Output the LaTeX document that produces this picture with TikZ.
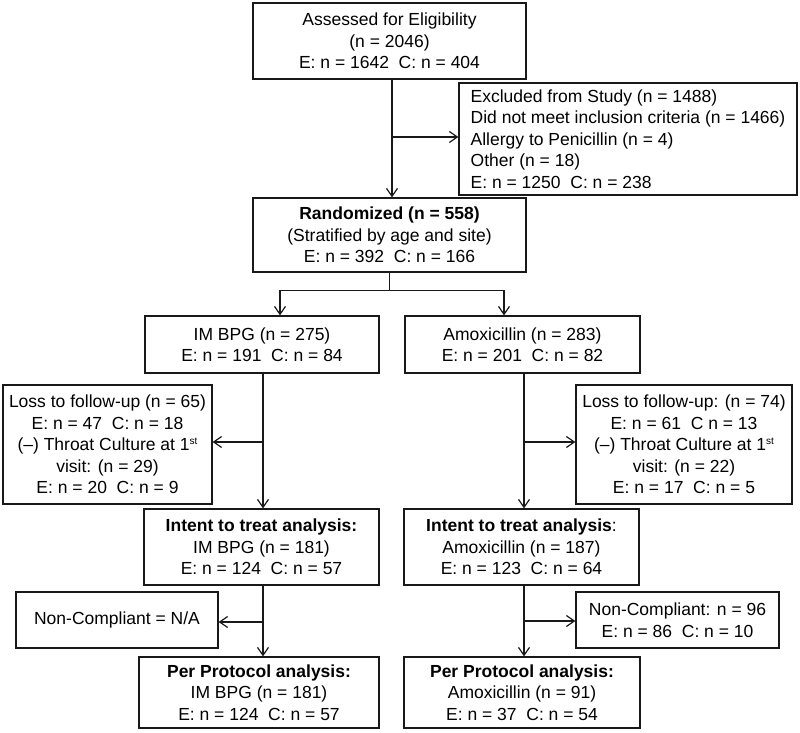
\documentclass[tikz,border=0pt]{standalone}
\usepackage{fontspec}
\setmainfont{Liberation Sans}
\usetikzlibrary{arrows.meta}
\tikzset{
  box/.style={draw=black!90, line width=1.2pt, align=center, inner sep=0pt,
    font=\fontsize{17.5}{21.5}\selectfont},
  conn/.style={draw=black!90, line width=1.2pt},
  arr/.style={conn, -{Straight Barb[length=8pt,width=11pt,line width=1.2pt]}}
}
\begin{document}
\begin{tikzpicture}[x=1pt,y=-1pt]
\useasboundingbox (0,0) rectangle (800,733);
\node[box, minimum width=273pt, minimum height=76pt] (A) at (389.5,41)
  {Assessed for Eligibility\\(n = 2046)\\E: n = 1642\ \ C: n = 404};
\node[box, align=left, minimum width=338pt, minimum height=112pt] (Excl) at (628,139)
  {Excluded from Study (n = 1488)\\Did not meet inclusion criteria (n = 1466)\\Allergy to Penicillin (n = 4)\\Other (n = 18)\\E: n = 1250\ \ C: n = 238};
\node[box, minimum width=273pt, minimum height=74pt] (Rand) at (389.5,235)
  {\textbf{Randomized (n = 558)}\\(Stratified by age and site)\\E: n = 392\ \ C: n = 166};
\node[box, minimum width=234pt, minimum height=57pt] (IM) at (262,344.5)
  {IM BPG (n = 275)\\E: n = 191\ \ C: n = 84};
\node[box, minimum width=235pt, minimum height=57pt] (Amox) at (522.5,344.5)
  {Amoxicillin (n = 283)\\E: n = 201\ \ C: n = 82};
\node[box, minimum width=209pt, minimum height=119pt] (LossL) at (107.5,444.5)
  {Loss to follow-up (n = 65)\\E: n = 47\ \ C: n = 18\\(–) Throat Culture at 1{\fontsize{10}{10}\selectfont\raisebox{6pt}{st}}\\visit: (n = 29)\\E: n = 20\ \ C: n = 9};
\node[box, minimum width=216pt, minimum height=119pt] (LossR) at (684,444.5)
  {Loss to follow-up: (n = 74)\\E: n = 61\ \ C n = 13\\(–) Throat Culture at 1{\fontsize{10}{10}\selectfont\raisebox{6pt}{st}}\\visit: (n = 22)\\E: n = 17\ \ C: n = 5};
\node[box, minimum width=235pt, minimum height=76pt] (ITTL) at (261.5,547)
  {\textbf{Intent to treat analysis:}\\IM BPG (n = 181)\\E: n = 124\ \ C: n = 57};
\node[box, minimum width=235pt, minimum height=76pt] (ITTR) at (521.5,547)
  {\textbf{Intent to treat analysis}:\\Amoxicillin (n = 187)\\E: n = 123\ \ C: n = 64};
\node[box, minimum width=202pt, minimum height=56pt] (NCL) at (117,620)
  {Non-Compliant = N/A};
\node[box, minimum width=203pt, minimum height=56pt] (NCR) at (677.5,620)
  {Non-Compliant: n = 96\\E: n = 86\ \ C: n = 10};
\node[box, minimum width=240pt, minimum height=71pt] (PPL) at (259,692.5)
  {\textbf{Per Protocol analysis:}\\IM BPG (n = 181)\\E: n = 124\ \ C: n = 57};
\node[box, minimum width=236pt, minimum height=71pt] (PPR) at (522,692.5)
  {\textbf{Per Protocol analysis:}\\Amoxicillin (n = 91)\\E: n = 37\ \ C: n = 54};

% top
\coordinate (a0) at ([xshift=2.5pt]A.south);
\draw[arr] (a0) -- (a0 |- Rand.north);
\coordinate (ex) at ([yshift=2pt]Excl.west);
\draw[arr] (a0 |- ex) -- (ex);
% randomization split
\coordinate (rb) at ([yshift=-18pt]Rand.south);
\draw[conn] (Rand.south) -- (rb);
\draw[arr] (rb) -| ([xshift=18pt]IM.north);
\draw[arr] (rb) -| ([xshift=-18.5pt]Amox.north);
% left arm
\coordinate (l0) at ([xshift=1pt]IM.south);
\draw[arr] (l0) -- (l0 |- ITTL.north);
\coordinate (ll) at ([yshift=2.5pt]LossL.east);
\draw[arr] (l0 |- ll) -- (ll);
\coordinate (l1) at (l0 |- ITTL.south);
\draw[arr] (l1) -- (l1 |- PPL.north);
\coordinate (nl) at ([yshift=-2pt]NCL.east);
\draw[arr] (l1 |- nl) -- (nl);
% right arm
\coordinate (r0) at ([xshift=1.5pt]Amox.south);
\draw[arr] (r0) -- (r0 |- ITTR.north);
\coordinate (lr) at ([yshift=2.5pt]LossR.west);
\draw[arr] (r0 |- lr) -- (lr);
\coordinate (r1) at (r0 |- ITTR.south);
\draw[arr] (r1) -- (r1 |- PPR.north);
\coordinate (nr) at ([yshift=-1pt]NCR.west);
\draw[arr] (r1 |- nr) -- (nr);
\end{tikzpicture}
\end{document}
